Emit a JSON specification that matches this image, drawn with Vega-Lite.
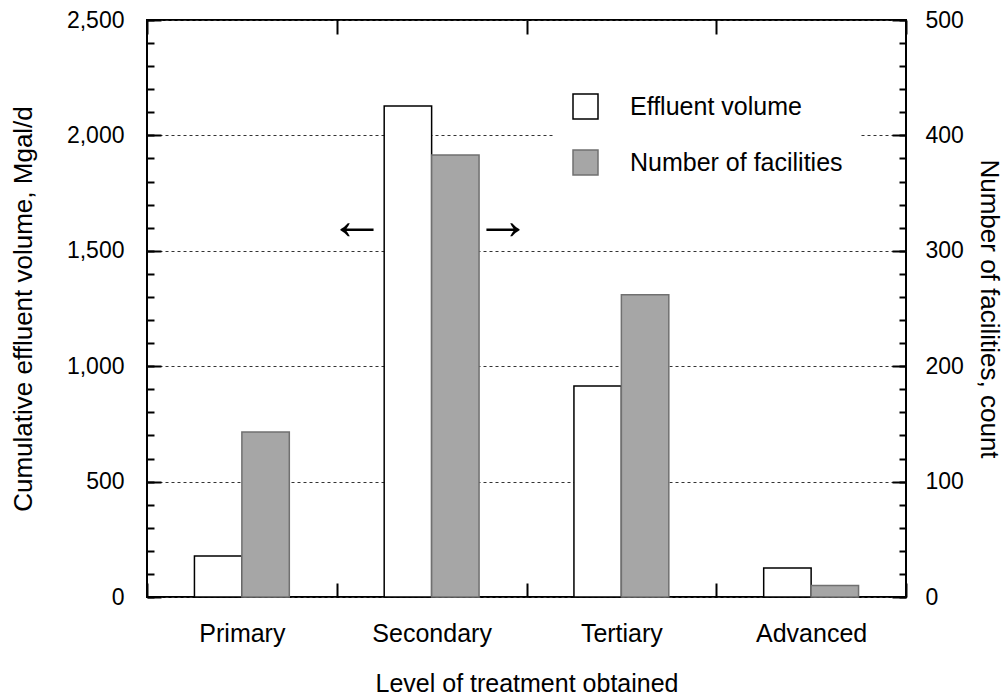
{
  "$schema": "https://vega.github.io/schema/vega-lite/v6.json",
  "width": 759,
  "height": 577,
  "autosize": {"type": "none"},
  "padding": {"left": 147, "top": 20, "right": 102, "bottom": 103},
  "background": "white",
  "config": {
    "font": "Liberation Sans",
    "view": {"stroke": "black", "strokeWidth": 2},
    "axis": {
      "labelFont": "Liberation Sans",
      "titleFont": "Liberation Sans",
      "labelColor": "black",
      "titleColor": "black",
      "titleFontWeight": "normal",
      "tickColor": "black",
      "tickWidth": 2,
      "domain": false,
      "labelFontSize": 23,
      "titleFontSize": 26
    },
    "legend": {"labelFont": "Liberation Sans", "labelColor": "black"}
  },
  "datasets": {
    "treat": [
      {"category": "Primary", "series": "Effluent volume", "value": 178},
      {"category": "Primary", "series": "Number of facilities", "value": 143},
      {"category": "Secondary", "series": "Effluent volume", "value": 2127},
      {"category": "Secondary", "series": "Number of facilities", "value": 383},
      {"category": "Tertiary", "series": "Effluent volume", "value": 914},
      {"category": "Tertiary", "series": "Number of facilities", "value": 262},
      {"category": "Advanced", "series": "Effluent volume", "value": 126},
      {"category": "Advanced", "series": "Number of facilities", "value": 10}
    ],
    "arrows": [
      {"category": "Secondary", "pos": 1600, "left": "←", "right": "→"}
    ]
  },
  "layer": [
    {
      "layer": [
        {
          "data": {"name": "treat"},
          "transform": [{"filter": "datum.series === 'Effluent volume'"}],
          "mark": {"type": "bar", "strokeWidth": 1.5},
          "encoding": {
            "x": {
              "field": "category", "type": "nominal",
              "scale": {"domain": ["Primary", "Secondary", "Tertiary", "Advanced"], "paddingInner": 0, "paddingOuter": 0},
              "axis": {
                "orient": "bottom", "title": "Level of treatment obtained", "labelAngle": 0,
                "labelFontSize": 25, "titleFontSize": 25, "tickBand": "extent", "tickSize": -14, "labelPadding": 38,
                "titlePadding": 25, "grid": false
              }
            },
            "xOffset": {
              "field": "series", "type": "nominal",
              "scale": {"domain": ["Effluent volume", "Number of facilities"], "paddingInner": 0, "paddingOuter": 1}
            },
            "y": {
              "field": "value", "type": "quantitative",
              "scale": {"domain": [0, 2500], "nice": false},
              "axis": {
                "orient": "left", "title": "Cumulative effluent volume, Mgal/d",
                "values": [0, 500, 1000, 1500, 2000, 2500], "format": ",d",
                "tickSize": -14, "labelPadding": 37, "titlePadding": 30,
                "grid": true, "gridDash": [3, 3], "gridColor": "#333333", "gridWidth": 1
              }
            },
            "fill": {
              "field": "series", "type": "nominal",
              "scale": {"domain": ["Effluent volume", "Number of facilities"], "range": ["white", "#a6a6a6"]},
              "legend": {
                "orient": "none", "legendX": 408, "legendY": 56, "title": null,
                "symbolType": "square", "symbolSize": 625, "symbolStrokeWidth": 1.5,
                "labelFontSize": 25, "labelOffset": 31, "rowPadding": 25, "labelLimit": 400,
                "fillColor": "white", "padding": 17
              }
            },
            "stroke": {
              "field": "series", "type": "nominal",
              "scale": {"domain": ["Effluent volume", "Number of facilities"], "range": ["black", "#707070"]},
              "legend": {
                "orient": "none", "legendX": 408, "legendY": 56, "title": null,
                "symbolType": "square", "symbolSize": 625, "symbolStrokeWidth": 1.5,
                "labelFontSize": 25, "labelOffset": 31, "rowPadding": 25, "labelLimit": 400,
                "fillColor": "white", "padding": 17
              }
            }
          }
        },
        {
          "data": {"name": "treat"},
          "transform": [{"filter": "datum.series === 'Effluent volume'"}],
          "mark": {"type": "bar", "opacity": 0},
          "encoding": {
            "x": {
              "field": "category", "type": "nominal",
              "axis": {"orient": "top", "labels": false, "title": null, "tickBand": "extent", "tickSize": -14, "grid": false}
            },
            "y": {
              "field": "value", "type": "quantitative",
              "axis": {
                "orient": "left", "labels": false, "title": null, "grid": false, "tickSize": -7,
                "values": [0, 100, 200, 300, 400, 500, 600, 700, 800, 900, 1000, 1100, 1200, 1300, 1400, 1500, 1600, 1700, 1800, 1900, 2000, 2100, 2200, 2300, 2400, 2500]
              }
            }
          }
        },
        {
          "data": {"name": "arrows"},
          "mark": {"type": "text", "text": "←", "font": "Liberation Sans", "fontSize": 56, "dx": -75, "dy": -6, "baseline": "middle", "align": "center", "color": "black"},
          "encoding": {
            "x": {"field": "category", "type": "nominal", "axis": null},
            "y": {"field": "pos", "type": "quantitative", "axis": null}
          }
        },
        {
          "data": {"name": "arrows"},
          "mark": {"type": "text", "text": "→", "font": "Liberation Sans", "fontSize": 56, "dx": 71, "dy": -6, "baseline": "middle", "align": "center", "color": "black"},
          "encoding": {
            "x": {"field": "category", "type": "nominal", "axis": null},
            "y": {"field": "pos", "type": "quantitative", "axis": null}
          }
        }
      ],
      "resolve": {"axis": {"x": "independent", "y": "independent"}}
    },
    {
      "layer": [
        {
          "data": {"name": "treat"},
          "transform": [{"filter": "datum.series === 'Number of facilities'"}],
          "mark": {"type": "bar", "strokeWidth": 1.5},
          "encoding": {
            "x": {"field": "category", "type": "nominal", "axis": null},
            "xOffset": {"field": "series", "type": "nominal"},
            "y": {
              "field": "value", "type": "quantitative",
              "scale": {"domain": [0, 500], "nice": false},
              "axis": {
                "orient": "right", "title": "Number of facilities, count",
                "values": [0, 100, 200, 300, 400, 500],
                "tickSize": -14, "labelPadding": 33, "titlePadding": 12, "grid": false
              }
            },
            "fill": {"field": "series", "type": "nominal"},
            "stroke": {"field": "series", "type": "nominal"}
          }
        },
        {
          "data": {"name": "treat"},
          "transform": [{"filter": "datum.series === 'Number of facilities'"}],
          "mark": {"type": "bar", "opacity": 0},
          "encoding": {
            "x": {"field": "category", "type": "nominal", "axis": null},
            "y": {
              "field": "value", "type": "quantitative",
              "axis": {
                "orient": "right", "labels": false, "title": null, "grid": false, "tickSize": -7,
                "values": [0, 20, 40, 60, 80, 100, 120, 140, 160, 180, 200, 220, 240, 260, 280, 300, 320, 340, 360, 380, 400, 420, 440, 460, 480, 500]
              }
            }
          }
        }
      ],
      "resolve": {"axis": {"y": "independent"}}
    }
  ],
  "resolve": {"scale": {"y": "independent"}}
}
